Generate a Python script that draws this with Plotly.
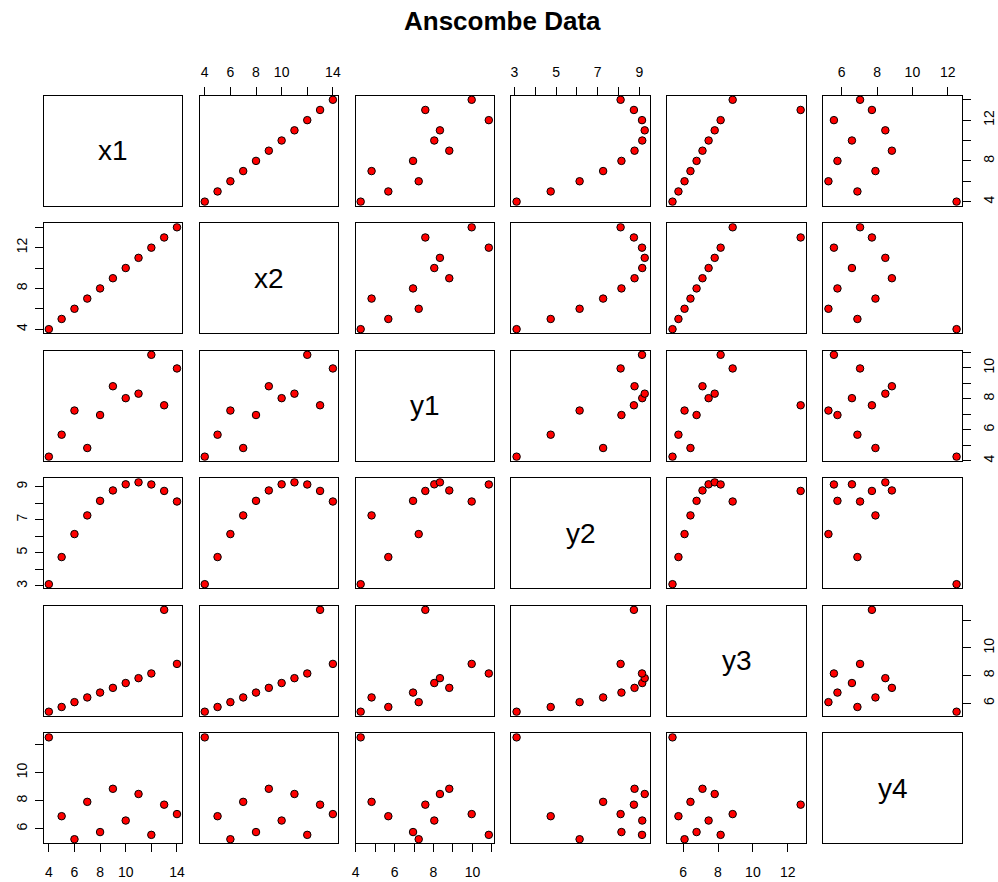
import numpy as np
import plotly.graph_objects as go

# ---- data (Anscombe quartet columns shown) ----
names = ["x1", "x2", "y1", "y2", "y3", "y4"]
x1 = [10, 8, 13, 9, 11, 14, 6, 4, 12, 7, 5]
x2 = [10, 8, 13, 9, 11, 14, 6, 4, 12, 7, 5]
y1 = [8.04, 6.95, 7.58, 8.81, 8.33, 9.96, 7.24, 4.26, 10.84, 4.82, 5.68]
y2 = [9.14, 8.14, 8.74, 8.77, 9.26, 8.10, 6.13, 3.10, 9.13, 7.26, 4.74]
y3 = [7.46, 6.77, 12.74, 7.11, 7.81, 8.84, 6.08, 5.39, 8.15, 6.42, 5.73]
y4 = [6.58, 5.76, 7.71, 8.84, 8.47, 7.04, 5.25, 12.50, 5.56, 7.91, 6.89]
columns = [x1, x2, y1, y2, y3, y4]

# tick positions for each variable
tick_x1 = [4, 6, 8, 10, 12, 14]
tick_x2 = [4, 6, 8, 10, 12, 14]
tick_y1 = [4, 5, 6, 7, 8, 9, 10, 11]
tick_y2 = [3, 4, 5, 6, 7, 8, 9]
tick_y3 = [6, 8, 10, 12]
tick_y4 = [6, 8, 10, 12]
ticks = [tick_x1, tick_x2, tick_y1, tick_y2, tick_y3, tick_y4]

# tick labels actually printed on each outer axis (R drops overlapping ones)
top_labels = {1: ["4", "6", "8", "10", "", "14"],
              3: ["3", "", "5", "", "7", "", "9"],
              5: ["6", "8", "10", "12"]}
bottom_labels = {0: ["4", "6", "8", "10", "", "14"],
                 2: ["4", "", "6", "", "8", "", "10", ""],
                 4: ["6", "8", "10", "12"]}
left_labels = {1: ["4", "", "8", "", "12", ""],
               3: ["3", "", "5", "", "7", "", "9"],
               5: ["6", "8", "10", ""]}
right_labels = {0: ["4", "", "8", "", "12", ""],
                2: ["4", "", "6", "", "8", "", "10", ""],
                4: ["6", "8", "10", ""]}

title_text = "Anscombe Data"

# ---- layout geometry (pixels) ----
W, H = 998, 882
L0, PW, DX = 43.7, 138.4, 155.92
T0, PH, DY = 95.7, 110.0, 127.52
FONT = "Liberation Sans, Arial, sans-serif"


def rng(v):
    lo, hi = min(v), max(v)
    d = (hi - lo) * 0.04
    return [lo - d, hi + d]


fig = go.Figure()
layout = {}
annotations = []
n = len(names)
for r in range(n):
    for c in range(n):
        k = r * n + c + 1
        sfx = "" if k == 1 else str(k)
        left = L0 + c * DX
        top = T0 + r * DY
        xd = [left / W, (left + PW) / W]
        yd = [1 - (top + PH) / H, 1 - top / H]
        base = dict(showline=True, mirror=True, linecolor="black", linewidth=1,
                    showgrid=False, zeroline=False, fixedrange=True,
                    ticks="", showticklabels=False, automargin=False,
                    tickfont=dict(family=FONT, size=14, color="black"))
        xa = dict(base, domain=xd, anchor="y" + sfx)
        ya = dict(base, domain=yd, anchor="x" + sfx)
        if r == c:
            xa["range"] = [0, 1]
            ya["range"] = [0, 1]
            # invisible placeholder so the empty diagonal frame is drawn
            fig.add_trace(go.Scatter(x=[0.5], y=[0.5], mode="markers",
                                     xaxis="x" + sfx, yaxis="y" + sfx,
                                     marker=dict(opacity=0), showlegend=False,
                                     hoverinfo="skip"))
            annotations.append(dict(text=names[r], x=(left + PW / 2) / W,
                                    y=1 - (top + PH / 2) / H, xref="paper", yref="paper",
                                    showarrow=False, xanchor="center", yanchor="middle",
                                    font=dict(family=FONT, size=28, color="black")))
        else:
            xa["range"] = rng(columns[c])
            ya["range"] = rng(columns[r])
            fig.add_trace(go.Scatter(x=columns[c], y=columns[r], mode="markers",
                                     xaxis="x" + sfx, yaxis="y" + sfx,
                                     marker=dict(size=7.5, color="red",
                                                 line=dict(color="black", width=1)),
                                     showlegend=False, hoverinfo="skip"))
        tick_common = dict(ticks="outside", ticklen=8, tickwidth=1, tickcolor="black",
                           showticklabels=True, tickmode="array")
        if r == 0 and c in top_labels:
            xa.update(tick_common, side="top", tickvals=ticks[c], ticktext=top_labels[c],
                      ticklabelstandoff=4)
        if r == n - 1 and c in bottom_labels:
            xa.update(tick_common, side="bottom", tickvals=ticks[c], ticktext=bottom_labels[c],
                      ticklabelstandoff=8)
        if c == 0 and r in left_labels:
            ya.update(tick_common, side="left", tickvals=ticks[r], ticktext=left_labels[r],
                      tickangle=-90, ticklabelstandoff=2)
        if c == n - 1 and r in right_labels:
            ya.update(tick_common, side="right", tickvals=ticks[r], ticktext=right_labels[r],
                      tickangle=-90, ticklabelstandoff=6)
        layout["xaxis" + sfx] = xa
        layout["yaxis" + sfx] = ya

annotations.append(dict(text="<b>" + title_text + "</b>", x=502.8 / W, y=1 - 21 / H,
                        xref="paper", yref="paper", showarrow=False,
                        xanchor="center", yanchor="middle",
                        font=dict(family=FONT, size=26, color="black")))

fig.update_layout(width=W, height=H, margin=dict(l=0, r=0, t=0, b=0),
                  template="none", paper_bgcolor="white", plot_bgcolor="white",
                  annotations=annotations, showlegend=False, **layout)
fig.write_html("out.html", config={"displayModeBar": False},
               post_script="document.body.style.margin='0';document.body.style.overflow='hidden';")
